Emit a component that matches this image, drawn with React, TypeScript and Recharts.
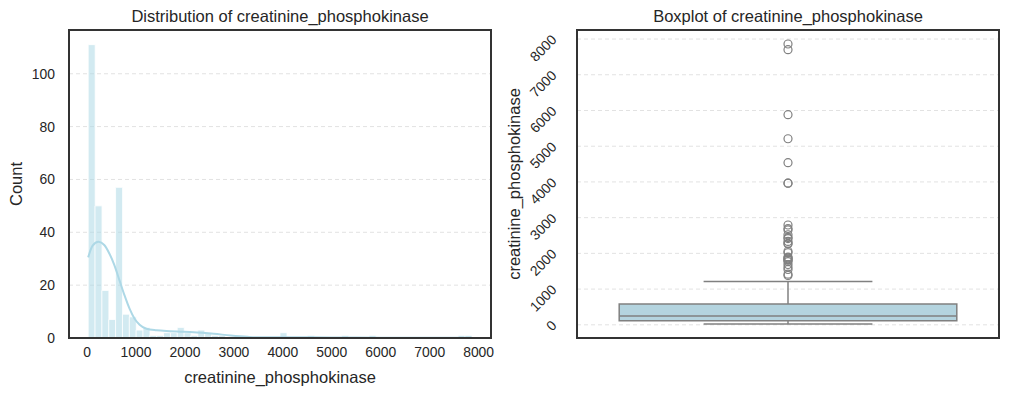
import React from "react";
import {
  Bar,
  CartesianGrid,
  ComposedChart,
  Label,
  Line,
  ReferenceArea,
  ReferenceLine,
  Scatter,
  XAxis,
  YAxis
} from "recharts";

// histogram bins (seaborn auto bins over 23..7861)
const binStart = 23;
const binEnd = 7861;
const binCounts = [
  111, 50, 18, 7, 57, 9, 8, 3, 4, 1, 1, 2, 2, 4, 2, 1, 3, 2, 1, 1,
  0, 0, 0, 0, 0, 0, 0, 0, 2, 0, 0, 0, 1, 0, 0, 0, 0, 1, 0, 0,
  0, 1, 0, 0, 0, 0, 0, 0, 0, 0, 0, 0, 0, 0, 1, 1
];

const kdeX = [23, 110, 234, 351, 455, 558, 661, 764, 868, 971, 1074, 1213, 1419, 1694, 1969, 2245, 2589, 2934, 3279, 3554, 3800, 4000, 4300, 4600, 5000, 5500, 6000, 6500, 7000, 7500, 7861];
const kdeY = [30.5, 34.9, 36.4, 35.2, 32, 27.6, 21.9, 16.2, 11.1, 7.3, 5.0, 3.5, 2.9, 2.6, 2.4, 2.1, 1.6, 0.95, 0.46, 0.25, 0.25, 0.3, 0.3, 0.25, 0.2, 0.15, 0.12, 0.1, 0.08, 0.08, 0.08];

const valueTicks = [0, 1000, 2000, 3000, 4000, 5000, 6000, 7000, 8000];
const countTicks = [0, 20, 40, 60, 80, 100];

// boxplot summary
const boxMin = 23;
const boxQ1 = 116.5;
const boxMedian = 250;
const boxQ3 = 582;
const boxWhiskerHigh = 1211;
const outliers = [
  1380, 1419, 1548, 1610, 1688, 1767, 1808, 1820, 1846, 1876, 1896, 2017, 2060,
  2261, 2281, 2334, 2413, 2442, 2522, 2656, 2695, 2794, 3964, 3966, 4540, 5209,
  5882, 7702, 7861
];

const valueDomain = [-369, 8253];
const countDomain = [0, 116.55];

const FONT = "'Liberation Sans', Arial, sans-serif";
const INK = "#262626";
const GRID = "#e2e2e2";
const BOX_LINE = "#808080";
const PLOT_W = 422;

// the bin axis is a hidden band axis; pad it so the bins sit where the value axis puts them
const span = valueDomain[1] - valueDomain[0];
const binPadL = ((binStart - valueDomain[0]) / span) * PLOT_W;
const binPadR = ((valueDomain[1] - binEnd) / span) * PLOT_W;

const histData = binCounts.map((c, i) => ({ bin: i, count: c }));
const kdeData = kdeX.map((x, i) => ({ x, kde: kdeY[i] }));
const outlierData = outliers.map((v) => ({ x: 0, y: v }));

const tickStyle = { fill: INK, fontSize: 13.9 };
const labelStyle = { fill: INK, fontSize: 16.5, textAnchor: "middle" as const };

function RotatedTick(props: any) {
  const { x, y, payload } = props;
  const ty = y - 2;
  return (
    <text
      x={x}
      y={ty}
      transform={`rotate(-45 ${x} ${ty})`}
      textAnchor="end"
      dominantBaseline="central"
      fill={INK}
      fontSize={13.9}
    >
      {payload.value}
    </text>
  );
}

function OutlierDot(props: any) {
  return <circle cx={props.cx} cy={props.cy} r={4} fill="none" stroke={BOX_LINE} strokeWidth={1.2} />;
}

function Frame({ left }: { left: number }) {
  return (
    <div
      style={{
        position: "absolute",
        left: left - 1,
        top: 29,
        width: 424,
        height: 310,
        boxSizing: "border-box",
        border: "2px solid #333",
        pointerEvents: "none"
      }}
    />
  );
}

function Title({ center, text }: { center: number; text: string }) {
  return (
    <div
      style={{
        position: "absolute",
        left: center - 250,
        width: 500,
        top: 8,
        textAlign: "center",
        fontSize: 16.5,
        lineHeight: 1,
        color: INK,
        whiteSpace: "nowrap"
      }}
    >
      {text}
    </div>
  );
}

export default function App() {
  return (
    <div
      style={{
        position: "absolute",
        left: 0,
        top: 0,
        width: 1009,
        height: 396,
        background: "#fff",
        fontFamily: FONT
      }}
    >
      <Title center={280} text="Distribution of creatinine_phosphokinase" />
      <Title center={788} text="Boxplot of creatinine_phosphokinase" />

      <div style={{ position: "absolute", left: 0, top: 0 }}>
        <ComposedChart
          width={500}
          height={396}
          data={histData}
          barCategoryGap={0}
          margin={{ top: 30, right: 9, bottom: 0, left: 0 }}
        >
          <CartesianGrid xAxisId="num" vertical={false} stroke={GRID} strokeDasharray="4 3" />
          <XAxis
            xAxisId="bins"
            dataKey="bin"
            type="category"
            orientation="top"
            height={0}
            hide
            padding={{ left: binPadL, right: binPadR }}
          />
          <XAxis
            xAxisId="num"
            dataKey="x"
            type="number"
            domain={valueDomain}
            ticks={valueTicks}
            interval={0}
            height={58}
            tickLine={false}
            axisLine={false}
            tickSize={0}
            tickMargin={9}
            tick={tickStyle}
            allowDataOverflow
          >
            <Label value="creatinine_phosphokinase" position="insideBottom" offset={13} style={labelStyle} />
          </XAxis>
          <YAxis
            type="number"
            domain={countDomain}
            ticks={countTicks}
            interval={0}
            width={69}
            tickLine={false}
            axisLine={false}
            tickSize={0}
            tickMargin={14}
            tick={tickStyle}
          >
            <Label value="Count" angle={-90} position="insideLeft" offset={16} style={labelStyle} />
          </YAxis>
          <Bar
            xAxisId="bins"
            dataKey="count"
            fill="#add8e6"
            fillOpacity={0.55}
            stroke="#ffffff"
            strokeWidth={0.8}
            isAnimationActive={false}
          />
          <Line
            xAxisId="num"
            data={kdeData}
            dataKey="kde"
            type="monotone"
            stroke="#add8e6"
            strokeWidth={2}
            dot={false}
            isAnimationActive={false}
          />
        </ComposedChart>
      </div>

      <div style={{ position: "absolute", left: 500, top: 0 }}>
        <ComposedChart width={509} height={396} margin={{ top: 30, right: 10, bottom: 58, left: 0 }}>
          <CartesianGrid vertical={false} stroke={GRID} strokeDasharray="4 3" />
          <XAxis dataKey="x" type="number" domain={[-0.5, 0.5]} hide />
          <YAxis
            dataKey="y"
            type="number"
            domain={valueDomain}
            ticks={valueTicks}
            interval={0}
            width={77}
            tickLine={false}
            axisLine={false}
            tickSize={0}
            tickMargin={23}
            tick={<RotatedTick />}
          >
            <Label value="creatinine_phosphokinase" angle={-90} position="insideLeft" offset={14} style={labelStyle} />
          </YAxis>
          <ReferenceLine segment={[{ x: 0, y: boxQ3 }, { x: 0, y: boxWhiskerHigh }]} stroke={BOX_LINE} strokeWidth={1.5} />
          <ReferenceLine segment={[{ x: 0, y: boxMin }, { x: 0, y: boxQ1 }]} stroke={BOX_LINE} strokeWidth={1.5} />
          <ReferenceLine segment={[{ x: -0.2, y: boxWhiskerHigh }, { x: 0.2, y: boxWhiskerHigh }]} stroke={BOX_LINE} strokeWidth={1.5} />
          <ReferenceLine segment={[{ x: -0.2, y: boxMin }, { x: 0.2, y: boxMin }]} stroke={BOX_LINE} strokeWidth={1.5} />
          <ReferenceArea x1={-0.4} x2={0.4} y1={boxQ1} y2={boxQ3} fill="#b4d4df" fillOpacity={1} stroke={BOX_LINE} strokeWidth={1.5} />
          <ReferenceLine segment={[{ x: -0.4, y: boxMedian }, { x: 0.4, y: boxMedian }]} stroke={BOX_LINE} strokeWidth={1.5} />
          <Scatter data={outlierData} dataKey="y" shape={<OutlierDot />} isAnimationActive={false} />
        </ComposedChart>
      </div>

      <Frame left={69} />
      <Frame left={577} />
    </div>
  );
}
